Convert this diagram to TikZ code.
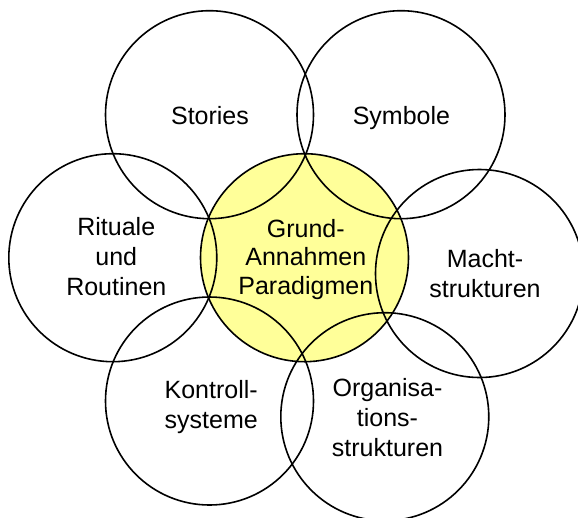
\documentclass[tikz,border=0pt]{standalone}
\usepackage{fontspec}
\setmainfont{Liberation Sans}
\definecolor{coreyellow}{HTML}{FFFF99}
\begin{document}
\begin{tikzpicture}[x=1pt,y=-1pt,
  ring/.style={circle,draw,line width=1.6pt,minimum size=208pt,inner sep=0pt},
  core/.style={ring,fill=coreyellow},
  label/.style={align=center,inner sep=0pt,font=\fontsize{25}{30}\selectfont},
  corelabel/.style={label,font=\fontsize{25}{28.3}\selectfont}]
\useasboundingbox (0,0) rectangle (578,517);
\clip (0,0) rectangle (578,517);
\node[core] (core) at (304.5,257.7) {};
\node[ring] (stories) at (209.5,114.7) {};
\node[ring] (symbole) at (401,114.7) {};
\node[ring] (rituale) at (112.8,257.7) {};
\node[ring] (macht) at (479.5,273.5) {};
\node[ring] (kontroll) at (209.5,401) {};
\node[ring] (organisa) at (384.8,416.7) {};
\node[corelabel] (core-t) at (305.8,260.9) {Grund-\\Annahmen\\Paradigmen\strut};
\node[label] (stories-t) at (210,118) {Stories\strut};
\node[label] (symbole-t) at (401.4,118) {Symbole\strut};
\node[label] (rituale-t) at (116.3,261.3) {Rituale\\und\\Routinen\strut};
\node[label] (macht-t) at (485,278.3) {Macht-\\strukturen\strut};
\node[label] (kontroll-t) at (211.2,409) {Kontroll-\\systeme\strut};
\node[label] (organisa-t) at (387.5,422.3) {Organisa-\\tions-\\strukturen\strut};
\end{tikzpicture}
\end{document}
